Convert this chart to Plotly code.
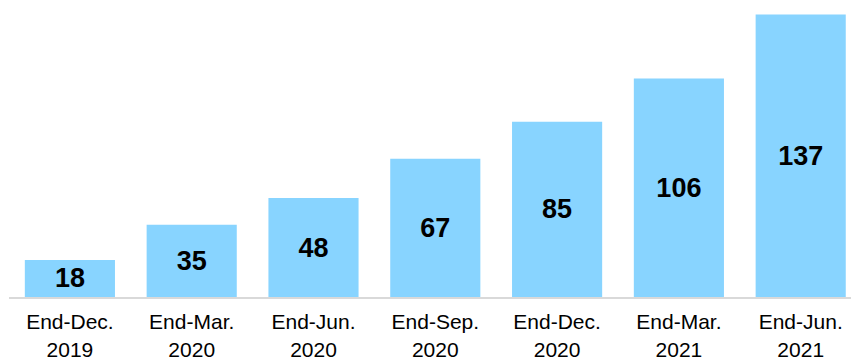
import plotly.graph_objects as go

categories = ["End-Dec.<br>2019", "End-Mar.<br>2020", "End-Jun.<br>2020", "End-Sep.<br>2020",
              "End-Dec.<br>2020", "End-Mar.<br>2021", "End-Jun.<br>2021"]
values = [18, 35, 48, 67, 85, 106, 137]

fig = go.Figure(go.Bar(
    x=list(range(len(categories))),
    y=values,
    text=[str(v) for v in values],
    textposition="inside",
    insidetextanchor="middle",
    textangle=0,
    constraintext="none",
    textfont=dict(family="Liberation Sans, Arial, sans-serif", size=27, color="black", weight="bold"),
    marker=dict(color="#88D4FF", line=dict(width=0)),
    hoverinfo="skip",
))

fig.update_layout(
    width=851, height=360,
    margin=dict(l=9, r=0, t=0, b=62.5, autoexpand=False),
    paper_bgcolor="white", plot_bgcolor="white",
    bargap=0.26,
    showlegend=False,
    font=dict(family="Liberation Sans, Arial, sans-serif", color="black"),
)
fig.update_xaxes(
    tickmode="array", tickvals=list(range(len(categories))), ticktext=categories,
    range=[-0.5, 6.413],
    showline=True, linecolor="#D9D9D9", linewidth=2,
    showgrid=False, zeroline=False, ticks="",
    automargin=False,
    ticklabelstandoff=5,
    tickfont=dict(size=21, color="black"),
)
fig.update_yaxes(range=[0, 144], visible=False, showgrid=False, zeroline=False, automargin=False)

fig.write_html("out.html")
